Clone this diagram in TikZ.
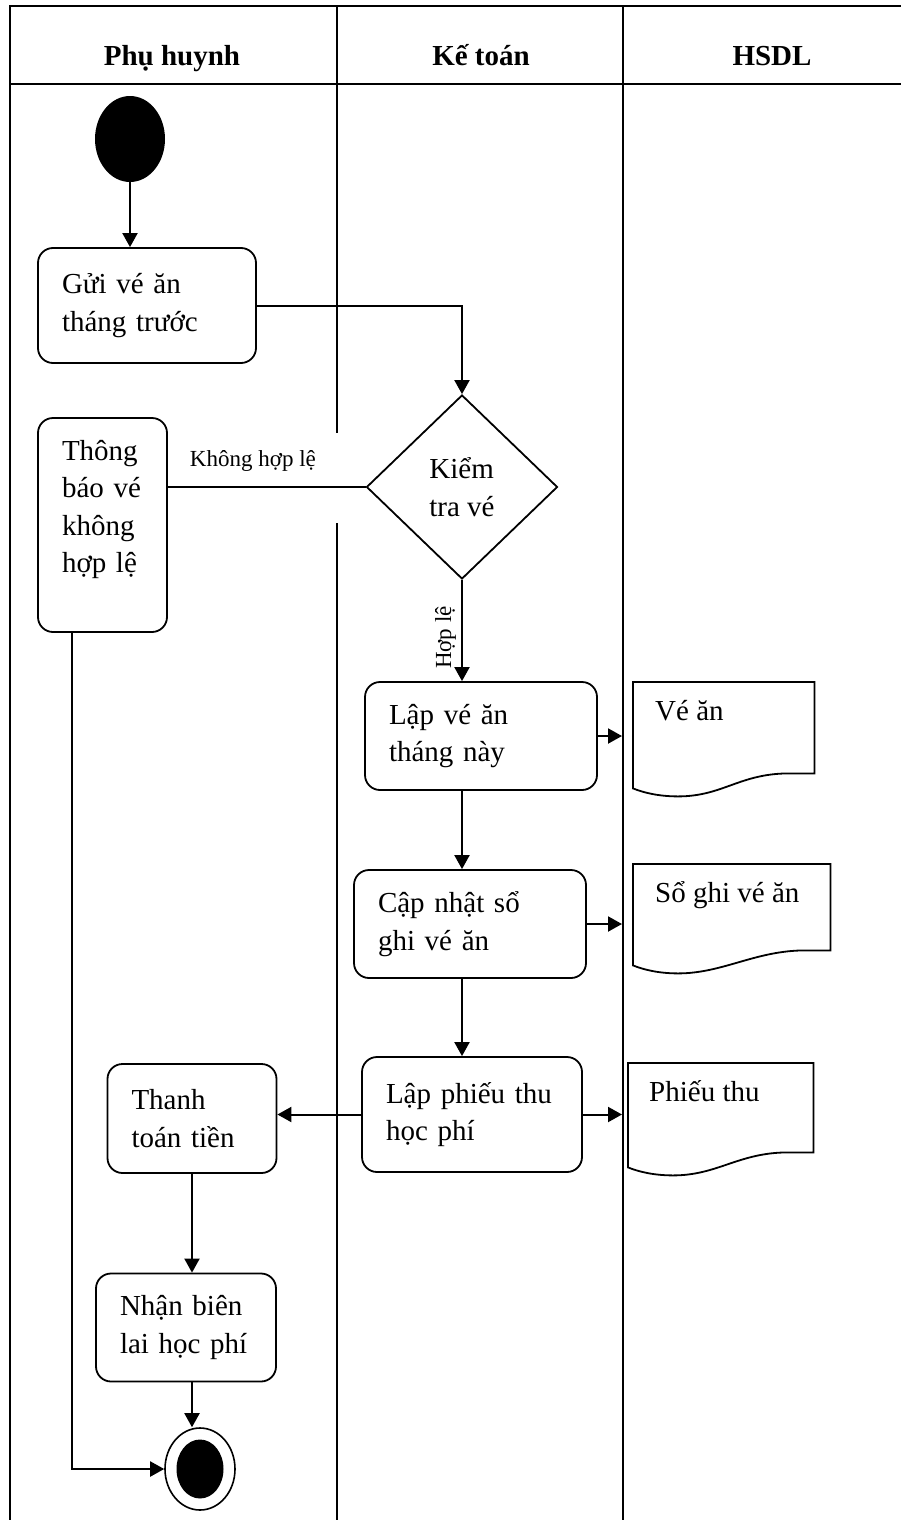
\documentclass[tikz,border=0pt]{standalone}
\usepackage{fontspec}
\setmainfont{Liberation Serif}
\usetikzlibrary{shapes.geometric,arrows.meta,calc}

\newcommand\txtbody{\fontsize{29}{37.5}\selectfont}
\newcommand\txthead{\fontsize{29}{34}\selectfont\bfseries}
\newcommand\txtsmall{\fontsize{23}{27}\selectfont}

% outline of a document symbol: flat top, wavy bottom edge
\newcommand\docoutline[1]{%
  \draw[docline] (#1.north west) -- (#1.north east) -- (#1.south east)
    -- ($(#1.south east)+(-25,0)$)
    .. controls ($(#1.south east)+(-75,0)$) and ($(#1.south west)+(90,23)$) .. ($(#1.south west)+(45,23)$)
    .. controls ($(#1.south west)+(25,23)$) and ($(#1.south west)+(10,19)$) .. ($(#1.south west)+(0,15)$)
    -- cycle;}

\begin{document}
\begin{tikzpicture}[x=1pt, y=-1pt,
  lane/.style={line width=2.2pt},
  flow/.style={line width=2pt, -{Triangle[length=14pt,width=15pt]}},
  plain/.style={line width=2pt},
  act/.style={draw, line width=1.8pt, rounded corners=15pt, align=left,
              inner xsep=24pt, inner ysep=0pt, font=\txtbody},
  decision/.style={draw, diamond, line width=1.8pt, inner sep=0pt,
              minimum width=191pt, minimum height=184pt, align=left, font=\txtbody},
  docbox/.style={rectangle, draw=none, inner sep=0pt, anchor=north west},
  doctext/.style={anchor=base west, inner sep=0pt, font=\txtbody},
  docline/.style={line width=1.8pt},
  head/.style={anchor=base, inner sep=0pt, font=\txthead},
  lbl/.style={inner sep=0pt, font=\txtsmall},
]
\useasboundingbox (0,0) rectangle (901,1520);

% swimlane frame
\coordinate (fTL) at (10,6);
\coordinate (fTR) at (905,6);
\coordinate (fBL) at (10,1525);
\coordinate (hL) at (10,84);
\coordinate (hR) at (905,84);
\coordinate (d1a) at (337,6);
\coordinate (d1b) at (337,433);
\coordinate (d1c) at (337,523);
\coordinate (d1d) at (337,1525);
\coordinate (d2a) at (623,6);
\coordinate (d2b) at (623,1525);
\draw[lane] (fBL) -- (fTL) -- (fTR);
\draw[lane] (hL) -- (hR);
\draw[lane] (d1a) -- (d1b);
\draw[lane] (d1c) -- (d1d);
\draw[lane] (d2a) -- (d2b);

% lane titles
\node[head] (h1) at (172,66) {Phụ huynh};
\node[head] (h2) at (481,66) {Kế toán};
\node[head] (h3) at (772,66) {HSDL};

% start and end
\node[ellipse, fill=black, inner sep=0pt, minimum width=70pt, minimum height=86pt] (start) at (130,139) {};
\node[ellipse, draw, line width=1.6pt, inner sep=0pt, minimum width=70pt, minimum height=82pt] (endo) at (200,1469) {};
\node[ellipse, fill=black, inner sep=0pt, minimum width=47pt, minimum height=59pt] (endi) at (200,1469) {};

% activities
\node[act, text width=170pt, minimum height=115pt] (gui) at (147,305.5) {Gửi vé ăn\\tháng trước};
\node[act, text width=81pt, minimum height=214pt, text depth=150pt] (thong) at (102.5,525) {Thông\\báo vé\\không\\hợp lệ};
\node[decision] (kiem) at (462,487) {Kiểm\\tra vé};
\node[act, text width=184pt, minimum height=108pt] (lapve) at (481,736) {Lập vé ăn\\tháng này};
\node[act, text width=184pt, minimum height=108pt] (capnhat) at (470,924) {Cập nhật sổ\\ghi vé ăn};
\node[act, text width=172pt, minimum height=115pt] (lapphieu) at (472,1114.5) {Lập phiếu thu\\học phí};
\node[act, text width=121pt, minimum height=109pt] (thanh) at (192,1118.5) {Thanh\\toán tiền};
\node[act, text width=132pt, minimum height=108pt] (nhan) at (186,1327.5) {Nhận biên\\lai học phí};

% documents
\node[docbox, minimum width=181pt, minimum height=91pt] (dve) at (633,682) {};
\node[docbox, minimum width=197pt, minimum height=86pt] (dso) at (633,864) {};
\node[docbox, minimum width=185pt, minimum height=89pt] (dphieu) at (628,1063) {};
\docoutline{dve}
\docoutline{dso}
\docoutline{dphieu}
\node[doctext] (tve) at ($(dve.north west)+(22,38)$) {Vé ăn};
\node[doctext] (tso) at ($(dso.north west)+(22,38)$) {Sổ ghi vé ăn};
\node[doctext] (tphieu) at ($(dphieu.north west)+(21,38)$) {Phiếu thu};

% connectors
\draw[flow] (start) -- (start |- gui.north);
\draw[flow] (gui.east) -| (kiem.north);
\draw[plain] (kiem.west) -- node[lbl, pos=0.57, anchor=south, yshift=15pt] (lkhong) {Không hợp lệ} (kiem.west -| thong.east);
\draw[flow] (kiem.south) -- node[lbl, pos=0.57, rotate=90, anchor=south, inner ysep=5pt] (lhop) {Hợp lệ} (kiem.south |- lapve.north);
\draw[flow] (kiem |- lapve.south) -- (kiem |- capnhat.north);
\draw[flow] (kiem |- capnhat.south) -- (kiem |- lapphieu.north);
\draw[flow, shorten >=1pt] (lapve.east) -- (lapve.east -| d2a);
\draw[flow, shorten >=1pt] (capnhat.east) -- (capnhat.east -| d2a);
\draw[flow, shorten >=1pt] (lapphieu.east) -- (lapphieu.east -| d2a);
\draw[flow] (lapphieu.west) -- (lapphieu.west -| thanh.east);
\draw[flow] (thanh.south) -- (thanh.south |- nhan.north);
\draw[flow] (nhan.south -| thanh.south) -- (thanh.south |- endo.north);
\draw[flow] ([xshift=-30.5pt]thong.south) |- (endo.west);
\end{tikzpicture}
\end{document}
